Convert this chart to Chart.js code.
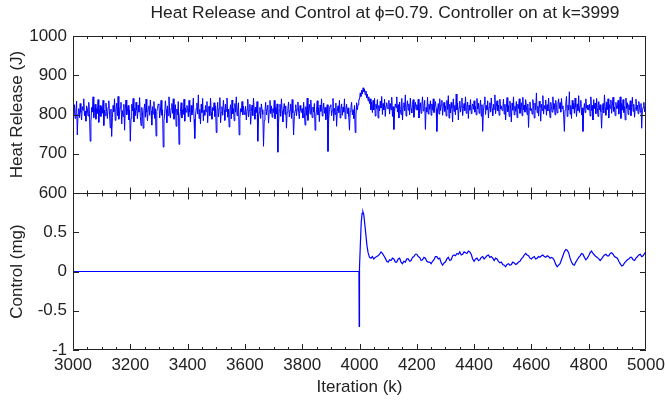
<!DOCTYPE html>
<html>
<head>
<meta charset="utf-8">
<script src="https://cdn.jsdelivr.net/npm/chart.js@4.4.1/dist/chart.umd.min.js"></script>
<style>
  html, body { margin:0; padding:0; background:#fff; overflow:hidden; }
  #wrap { position:relative; width:665px; height:402px; }
  #title { position:absolute; top:2px; left:0; width:665px; padding-left:105px; box-sizing:border-box;
    text-align:center; font:17.4px "Liberation Sans", Arial, Helvetica, sans-serif; color:#222; line-height:20px; }
</style>
</head>
<body>
<div id="wrap">
  <div id="title">Heat Release and Control at &#981;=0.79. Controller on at k=3999</div>
  <canvas id="chart" width="665" height="402"></canvas>
</div>
<script>
// heat release (J), one value every 2.5 iterations from k=3000
const heatStart = 3000, heatStep = 2.5;
const heat = [
  812,798,825,790,806,834,748,801,815,792,828,805,786,820,811,840,797,809,783,822,814,796,831,803,732,779,818,806,845,792,811,826,788,815,802,838,780,809,823,795,
  820,803,836,772,811,797,829,808,790,818,835,801,766,814,744,792,823,807,840,785,812,829,797,846,788,804,819,831,776,810,795,826,760,814,837,799,808,823,786,812,
  732,790,826,809,841,781,816,797,831,812,789,824,806,843,795,772,818,804,765,811,827,793,839,806,784,815,822,798,837,809,773,820,801,833,790,815,745,808,816,827,
  825,791,809,836,798,812,717,784,801,835,813,779,822,797,845,806,791,816,828,803,840,788,812,825,770,814,799,833,724,792,808,830,791,812,800,839,783,817,806,823,
  818,794,836,806,781,823,799,812,842,788,739,796,815,829,801,850,790,813,776,826,805,841,784,811,798,823,807,833,779,815,821,797,842,806,788,818,810,830,795,822,
  754,807,831,794,815,843,779,806,820,798,836,812,785,826,808,842,793,814,768,811,825,789,837,802,815,784,828,806,845,797,812,830,748,790,815,806,833,799,821,804,
  800,821,786,813,839,794,810,826,775,808,824,797,842,813,788,819,805,833,732,791,806,818,790,827,812,800,719,785,808,831,799,815,824,778,811,836,802,822,793,815,
  805,836,789,818,801,827,704,779,812,826,795,840,809,781,815,828,800,822,765,806,816,832,794,811,827,790,838,804,748,795,810,825,797,814,832,806,789,823,811,805,
  815,791,831,804,773,820,798,842,785,813,826,801,837,809,792,819,806,828,760,795,812,835,799,817,782,824,808,840,796,811,829,803,818,787,813,825,706,789,812,822,
  825,797,811,841,784,816,800,829,770,808,822,805,836,791,813,827,798,819,806,840,789,814,826,802,817,795,760,808,818,831,799,812,790,823,754,796,830,812,825,838,
  838,855,846,862,852,868,858,864,850,860,842,852,835,845,828,840,812,832,805,836,812,841,796,826,815,838,791,823,809,834,817,846,800,828,812,839,795,822,830,815,
  815,836,801,828,812,844,795,820,762,808,827,818,845,806,825,791,832,813,800,841,786,821,830,809,850,796,818,835,811,827,799,842,815,804,826,838,793,819,831,812,
  825,811,839,791,816,830,803,824,845,809,821,836,762,818,806,844,801,826,813,835,798,827,811,840,805,822,833,815,757,812,828,801,840,810,824,836,798,819,831,808,
  822,796,836,813,848,791,826,804,831,816,781,840,808,823,799,852,812,829,786,818,834,806,821,842,797,815,828,810,845,803,819,832,790,824,811,838,802,820,827,813,
  835,806,821,799,841,814,829,803,818,837,796,825,757,809,828,845,800,823,812,835,791,818,830,806,842,815,797,826,813,850,802,820,835,809,824,798,839,814,822,810,
  812,839,801,826,786,819,843,807,823,795,834,816,781,829,811,845,799,821,808,833,792,826,815,840,803,818,830,797,844,812,824,806,838,819,800,827,767,815,832,810,
  815,801,838,823,791,829,812,855,805,821,796,834,818,783,826,810,848,801,823,814,837,798,825,809,842,816,792,831,820,806,845,813,828,799,836,818,804,826,840,815,
  830,806,841,815,822,799,757,812,827,846,795,824,811,858,801,823,790,836,814,829,803,842,818,795,827,810,848,805,821,836,799,817,757,810,828,805,840,816,824,812,
  812,826,796,845,810,823,786,838,815,829,802,841,818,795,833,812,825,807,765,811,828,804,850,818,798,832,812,840,791,825,816,837,803,822,844,808,819,797,831,815,
  815,836,801,822,845,790,828,811,838,805,820,786,842,815,830,800,825,812,835,797,821,844,808,826,793,817,839,810,824,802,833,819,806,828,765,812,818,831,807,820,
  820
];

// control (mg): flat until the controller switches on, then the onset transient
const onsetK = [3000,3998,3999,4000,4003,4006,4009,4012,4015,4018,4022,4026,4030,4035];
const onsetV = [0,0,-0.7,0.05,0.35,0.62,0.74,0.76,0.72,0.62,0.48,0.33,0.24,0.18];
// then one value every 5 iterations from k=4040
const tailStart = 4040, tailStep = 5;
const tail = [
  0.17,0.19,0.16,0.18,0.19,0.20,0.22,0.25,0.23,0.20,0.17,0.13,0.12,0.15,0.14,0.17,0.16,0.12,0.12,0.16,
  0.17,0.12,0.10,0.13,0.12,0.16,0.16,0.13,0.14,0.18,0.19,0.22,0.22,0.19,0.18,0.14,0.15,0.18,0.17,0.13,
  0.12,0.12,0.10,0.13,0.15,0.19,0.19,0.16,0.17,0.11,0.08,0.11,0.12,0.16,0.18,0.14,0.15,0.20,0.21,0.20,
  0.23,0.22,0.25,0.21,0.22,0.25,0.24,0.23,0.26,0.25,0.22,0.16,0.13,0.16,0.17,0.14,0.15,0.18,0.19,0.16,
  0.18,0.20,0.21,0.18,0.19,0.17,0.14,0.17,0.16,0.13,0.11,0.12,0.09,0.08,0.06,0.09,0.10,0.08,0.09,0.12,
  0.11,0.09,0.10,0.12,0.13,0.16,0.18,0.21,0.23,0.21,0.20,0.17,0.16,0.18,0.19,0.16,0.17,0.19,0.18,0.20,
  0.21,0.19,0.18,0.20,0.19,0.17,0.18,0.17,0.14,0.09,0.06,0.08,0.10,0.15,0.20,0.25,0.28,0.27,0.24,0.17,
  0.12,0.09,0.08,0.12,0.15,0.18,0.20,0.23,0.22,0.18,0.15,0.17,0.20,0.24,0.26,0.23,0.21,0.19,0.18,0.16,
  0.14,0.16,0.19,0.21,0.22,0.20,0.20,0.23,0.24,0.22,0.19,0.18,0.17,0.13,0.10,0.07,0.08,0.11,0.13,0.15,
  0.16,0.18,0.18,0.15,0.14,0.17,0.19,0.21,0.22,0.19,0.20,0.23,0.25
];

const kTicks = [3000,3200,3400,3600,3800,4000,4200,4400,4600,4800,5000];
const heatTicks = [600,700,800,900,1000];
const ctrlTicks = [-1,-0.5,0,0.5];

const FONT = '"Liberation Sans", Arial, Helvetica, sans-serif';
Chart.defaults.font.family = FONT;
Chart.defaults.color = '#222';

// box around both panels with inward tick marks
const frame = {
  id:'frame',
  afterDraw(chart){
    const {ctx, chartArea:a, scales} = chart;
    const x = scales.x, yH = scales.yH, yC = scales.yC;
    const mid = Math.round(yH.bottom) + 0.5;
    ctx.save();
    ctx.strokeStyle = '#222';
    ctx.lineWidth = 1;
    ctx.beginPath();
    ctx.rect(Math.round(a.left)+0.5, Math.round(a.top)+0.5, Math.round(a.right-a.left)-1, Math.round(a.bottom-a.top)-1);
    ctx.moveTo(a.left, mid); ctx.lineTo(a.right, mid);
    for (let k = 3050; k < 5000; k += 50){
      const px = Math.round(x.getPixelForValue(k))+0.5;
      const len = k % 200 === 0 ? 6 : 3;
      ctx.moveTo(px, a.top); ctx.lineTo(px, a.top+len);
      ctx.moveTo(px, mid); ctx.lineTo(px, mid-len);
      ctx.moveTo(px, mid); ctx.lineTo(px, mid+len);
      ctx.moveTo(px, a.bottom); ctx.lineTo(px, a.bottom-len);
    }
    [[yH, heatTicks],[yC, ctrlTicks]].forEach(([s, vals]) => {
      vals.forEach(v => {
        const py = Math.round(s.getPixelForValue(v))+0.5;
        ctx.moveTo(a.left, py); ctx.lineTo(a.left+6, py);
        ctx.moveTo(a.right, py); ctx.lineTo(a.right-6, py);
      });
    });
    ctx.stroke();
    ctx.restore();
  }
};

const yAxis = (min, max, ticks, title) => ({
  type:'linear', position:'left', stack:'panels', stackWeight:1,
  min, max,
  afterBuildTicks: s => { s.ticks = ticks.map(v => ({value:v})); },
  afterFit: s => { s.width = 73; },
  grid:{display:false, drawTicks:false},
  border:{display:false},
  ticks:{font:{size:17}, color:'#222', padding:6, autoSkip:false, callback: v => String(v)},
  title:{display:true, text:title, font:{size:17}, color:'#222', padding:{top:7, bottom:0}}
});

new Chart(document.getElementById('chart'), {
  type:'line',
  data:{ datasets:[
    { label:'Heat Release', yAxisID:'yH',
      data: heat.map((v,i) => ({x: heatStart + i*heatStep, y: v})),
      borderColor:'#0000ff', borderWidth:1, pointRadius:0, tension:0 },
    { label:'Control', yAxisID:'yC',
      data: onsetK.map((k,i) => ({x: k, y: onsetV[i]}))
        .concat(tail.map((v,i) => ({x: tailStart + i*tailStep, y: v}))),
      borderColor:'#0000ff', borderWidth:1.2, pointRadius:0, tension:0 }
  ]},
  options:{
    responsive:false, animation:false, devicePixelRatio:1,
    layout:{padding:{left:0, right:19, top:36, bottom:0}},
    plugins:{ legend:{display:false}, tooltip:{enabled:false}, title:{display:false} },
    scales:{
      x:{ type:'linear', min:3000, max:5000,
        afterBuildTicks: s => { s.ticks = kTicks.map(v => ({value:v})); },
        afterFit: s => { s.height = 52; s.paddingRight = 0; s.paddingLeft = 0; },
        grid:{display:false, drawTicks:false}, border:{display:false},
        ticks:{font:{size:17}, color:'#222', padding:5, maxRotation:0, autoSkip:false, callback: v => String(v)},
        title:{display:true, text:'Iteration (k)', font:{size:17}, color:'#222', padding:{top:0, bottom:4}} },
      yC: yAxis(-1, 1, ctrlTicks, 'Control (mg)'),
      yH: yAxis(600, 1000, heatTicks, 'Heat Release (J)')
    }
  },
  plugins:[frame]
});
</script>
</body>
</html>
